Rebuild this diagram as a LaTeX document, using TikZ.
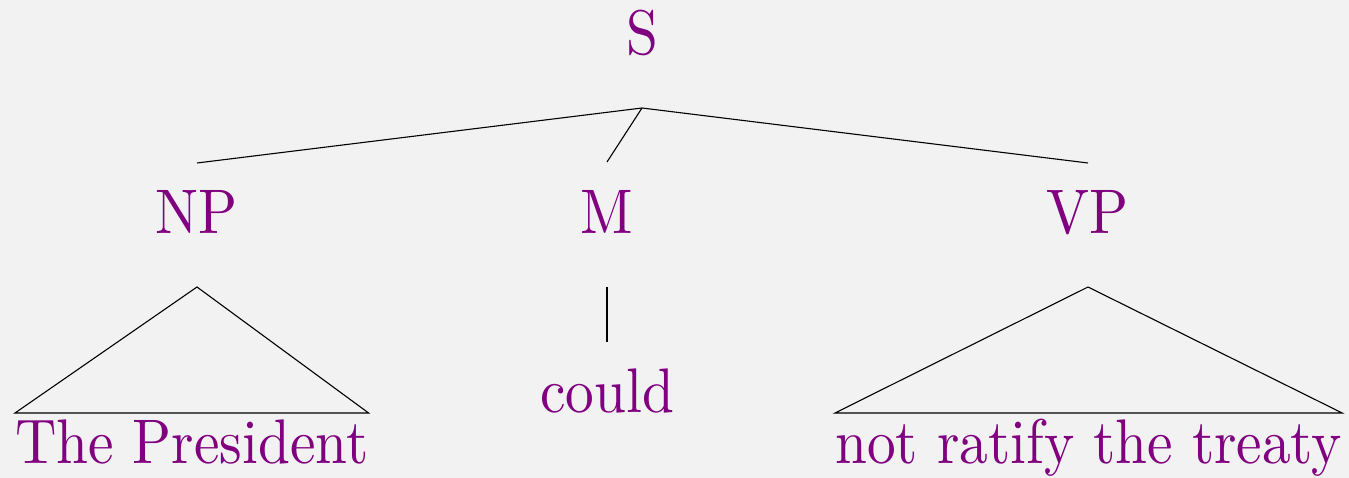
\documentclass[tikz,border=0pt]{standalone}
\usepackage{fontspec}
\newfontfamily\treefont{lmroman10-regular.otf}[FakeStretch=0.91]
\definecolor{treepurple}{RGB}{128,0,128}
\definecolor{treebg}{RGB}{242,242,242}
\begin{document}
\begin{tikzpicture}[x=1pt, y=-1pt,
            cat/.style={text=treepurple, font=\treefont\fontsize{63}{70}\selectfont, inner sep=0pt, anchor=base},
            words/.style={cat, anchor=base west},
            branch/.style={black, line width=1.1pt},
        ]
            \fill[treebg] (0,0) rectangle (1349,478);
            \node[cat](snode) at (642,55) {S};
            \node[cat](npnode) at (197,234) {NP};
            \node[cat](mnode) at (607,234) {M};
            \node[cat](vpnode) at (1088,234) {VP};
            \node[cat](could) at (607,412) {could};
            \node[words](subj) at (15,463) {The President};
            \node[words](pred) at (835,463) {not ratify the treaty};
            \draw[branch] ([yshift=71pt]npnode.base) -- ([yshift=-53pt]snode.base) -- ([yshift=71pt]vpnode.base);
            \draw[branch] ([yshift=-53pt]snode.base) -- ([yshift=72pt]mnode.base);
            \draw[branch] ([yshift=-53pt]mnode.base) -- ([yshift=70pt]could.base);
            \draw[branch] ([yshift=50pt]subj.base west) -- ([yshift=-53pt]npnode.base) -- ([yshift=50pt]subj.base east) -- cycle;
            \draw[branch] ([yshift=50pt]pred.base west) -- ([yshift=-53pt]vpnode.base) -- ([yshift=50pt]pred.base east) -- cycle;
        \end{tikzpicture}
\end{document}
